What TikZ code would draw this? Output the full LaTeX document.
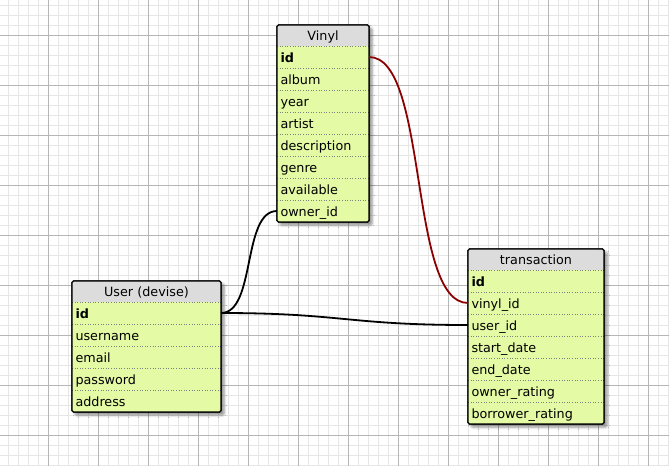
\documentclass[tikz,border=0pt]{standalone}
\usepackage{fontspec}
\setmainfont{DejaVu Sans}
\usetikzlibrary{shadows.blur}
\definecolor{headgray}{RGB}{220,220,220}
\definecolor{rowgreen}{RGB}{228,250,164}
\definecolor{fkred}{RGB}{139,0,0}
\definecolor{gridminor}{RGB}{230,230,230}
\definecolor{gridmajor}{RGB}{182,182,182}

\begin{document}
\begin{tikzpicture}[x=1pt, y=-1pt,
    tblframe/.style={draw=black, line width=1.1pt, fill=rowgreen, rounded corners=1.5pt, anchor=north west,
      inner sep=0pt, outer sep=0pt,
      blur shadow={shadow xshift=3pt, shadow yshift=-3pt, shadow blur radius=2.5pt, shadow opacity=45}},
    tblborder/.style={draw=black, line width=1.1pt, rounded corners=1.5pt},
    tblhead/.style={fill=headgray, anchor=north west, minimum height=21pt, inner sep=0pt, outer sep=0pt,
      align=center, text height=10.5pt, text depth=1.5pt, font=\fontsize{12.75}{15}\selectfont},
    tblrow/.style={fill=rowgreen, anchor=north west, minimum height=22pt, inner xsep=3.5pt, inner ysep=0pt,
      outer sep=0pt, align=left, text height=11pt, text depth=1pt, font=\fontsize{12.75}{15}\selectfont},
    rowsep/.style={draw=gray, dotted, line width=0.6pt},
    fkline/.style={line width=1.8pt}
  ]
  \useasboundingbox (0,0) rectangle (669,466);

  % Grid
  \foreach \gx in {8,18,...,668} \draw[gridminor, line width=0.8pt] (\gx,0) -- (\gx,466);
  \foreach \gy in {5,15,...,465} \draw[gridminor, line width=0.8pt] (0,\gy) -- (669,\gy);
  \foreach \gx in {48,98,...,648} \draw[gridmajor, line width=0.8pt] (\gx,0) -- (\gx,466);
  \foreach \gy in {35,85,...,435} \draw[gridmajor, line width=0.8pt] (0,\gy) -- (669,\gy);

  % Vinyl
  \node[tblframe, minimum width=92pt, minimum height=197pt] (vinyl) at (277,25) {};
  \node[tblhead, text width=92pt] (vinyl-head) at (277,25) {Vinyl};
  \foreach \nm/\txt [count=\i from 0] in {id/\textbf{id}, album/album, year/year, artist/artist,
      description/description, genre/genre, available/available, owner/owner\_id} {
    \node[tblrow, text width=85pt] (vinyl-\nm) at (277,{46+22*\i}) {\txt};
    \draw[rowsep] (vinyl-\nm.north west) -- (vinyl-\nm.north east);
  }
  \draw[tblborder] (vinyl.north west) rectangle (vinyl.south east);

  % User (devise)
  \node[tblframe, minimum width=149pt, minimum height=131pt] (user) at (72,281) {};
  \node[tblhead, text width=149pt] (user-head) at (72,281) {User (devise)};
  \foreach \nm/\txt [count=\i from 0] in {id/\textbf{id}, username/username, email/email,
      password/password, address/address} {
    \node[tblrow, text width=142pt] (user-\nm) at (72,{302+22*\i}) {\txt};
    \draw[rowsep] (user-\nm.north west) -- (user-\nm.north east);
  }
  \draw[tblborder] (user.north west) rectangle (user.south east);

  % transaction
  \node[tblframe, minimum width=136pt, minimum height=175pt] (trans) at (468,249) {};
  \node[tblhead, text width=136pt] (trans-head) at (468,249) {transaction};
  \foreach \nm/\txt [count=\i from 0] in {id/\textbf{id}, vinyl/vinyl\_id, user/user\_id,
      start/start\_date, end/end\_date, owner/owner\_rating, borrower/borrower\_rating} {
    \node[tblrow, text width=129pt] (trans-\nm) at (468,{270+22*\i}) {\txt};
    \draw[rowsep] (trans-\nm.north west) -- (trans-\nm.north east);
  }
  \draw[tblborder] (trans.north west) rectangle (trans.south east);

  % Relations
  \draw[fkline, fkred] (vinyl-id.east) .. controls +(60,0) and +(-60,0) .. (trans-vinyl.west);
  \draw[fkline] (vinyl-owner.west) .. controls +(-35,0) and +(35,0) .. (user-id.east);
  \draw[fkline] (user-id.east) .. controls +(120,0) and +(-120,0) .. (trans-user.west);

\end{tikzpicture}
\end{document}
